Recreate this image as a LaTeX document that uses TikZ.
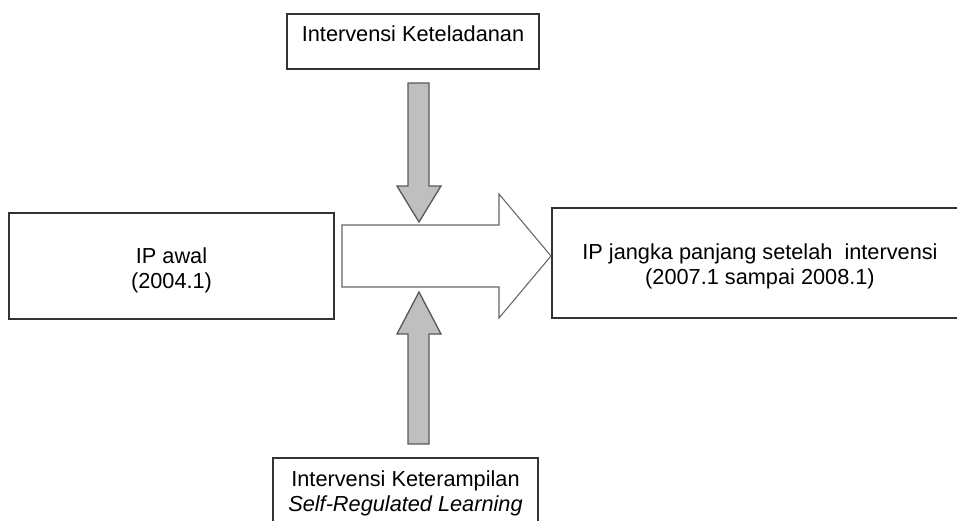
\documentclass[tikz,border=0pt]{standalone}
\usepackage{fontspec}
\setmainfont{Liberation Sans}

\tikzset{
  kotak/.style={draw=black!80, line width=1pt},
  panahabu/.style={draw=black!65, fill=gray!50, line width=1pt},
  panahputih/.style={draw=black!60, fill=white, line width=0.8pt},
  teks/.style={font=\fontsize{16.3}{18.8}\selectfont, align=center, inner sep=0pt}
}

\begin{document}
\begin{tikzpicture}[x=0.75pt,y=-0.75pt]
\useasboundingbox (0,0) rectangle (957,521);
\clip (0,0) rectangle (957,521);

%Kotak
\draw[kotak] (287,14) rectangle (539,69);
\node[teks, anchor=base] (keteladanan) at (413,41) {Intervensi Keteladanan};

\draw[kotak] (9,213) rectangle (334,319);
\node[teks] (awal) at (171.5,270) {IP awal\\(2004.1)};

\draw[kotak] (552,208) rectangle (968,318);
\node[teks] (panjang) at (760,266) {IP jangka panjang setelah\ \ intervensi\\(2007.1 sampai 2008.1)};

\draw[kotak] (273,458) rectangle (538,545);
\node[teks] (srl) at (405.5,493) {Intervensi Keterampilan\\\textit{Self-Regulated Learning}};

%Panah besar
\draw[panahputih] (342,225) -- (499,225) -- (499,194) -- (551,256) -- (499,318) -- (499,287) -- (342,287) -- cycle;

%Panah abu-abu
\draw[panahabu] (408,83) -- (429,83) -- (429,186) -- (441,186) -- (419,222) -- (397,186) -- (408,186) -- cycle;
\draw[panahabu] (408,444) -- (429,444) -- (429,334) -- (441,334) -- (419,292) -- (397,334) -- (408,334) -- cycle;
\end{tikzpicture}
\end{document}
